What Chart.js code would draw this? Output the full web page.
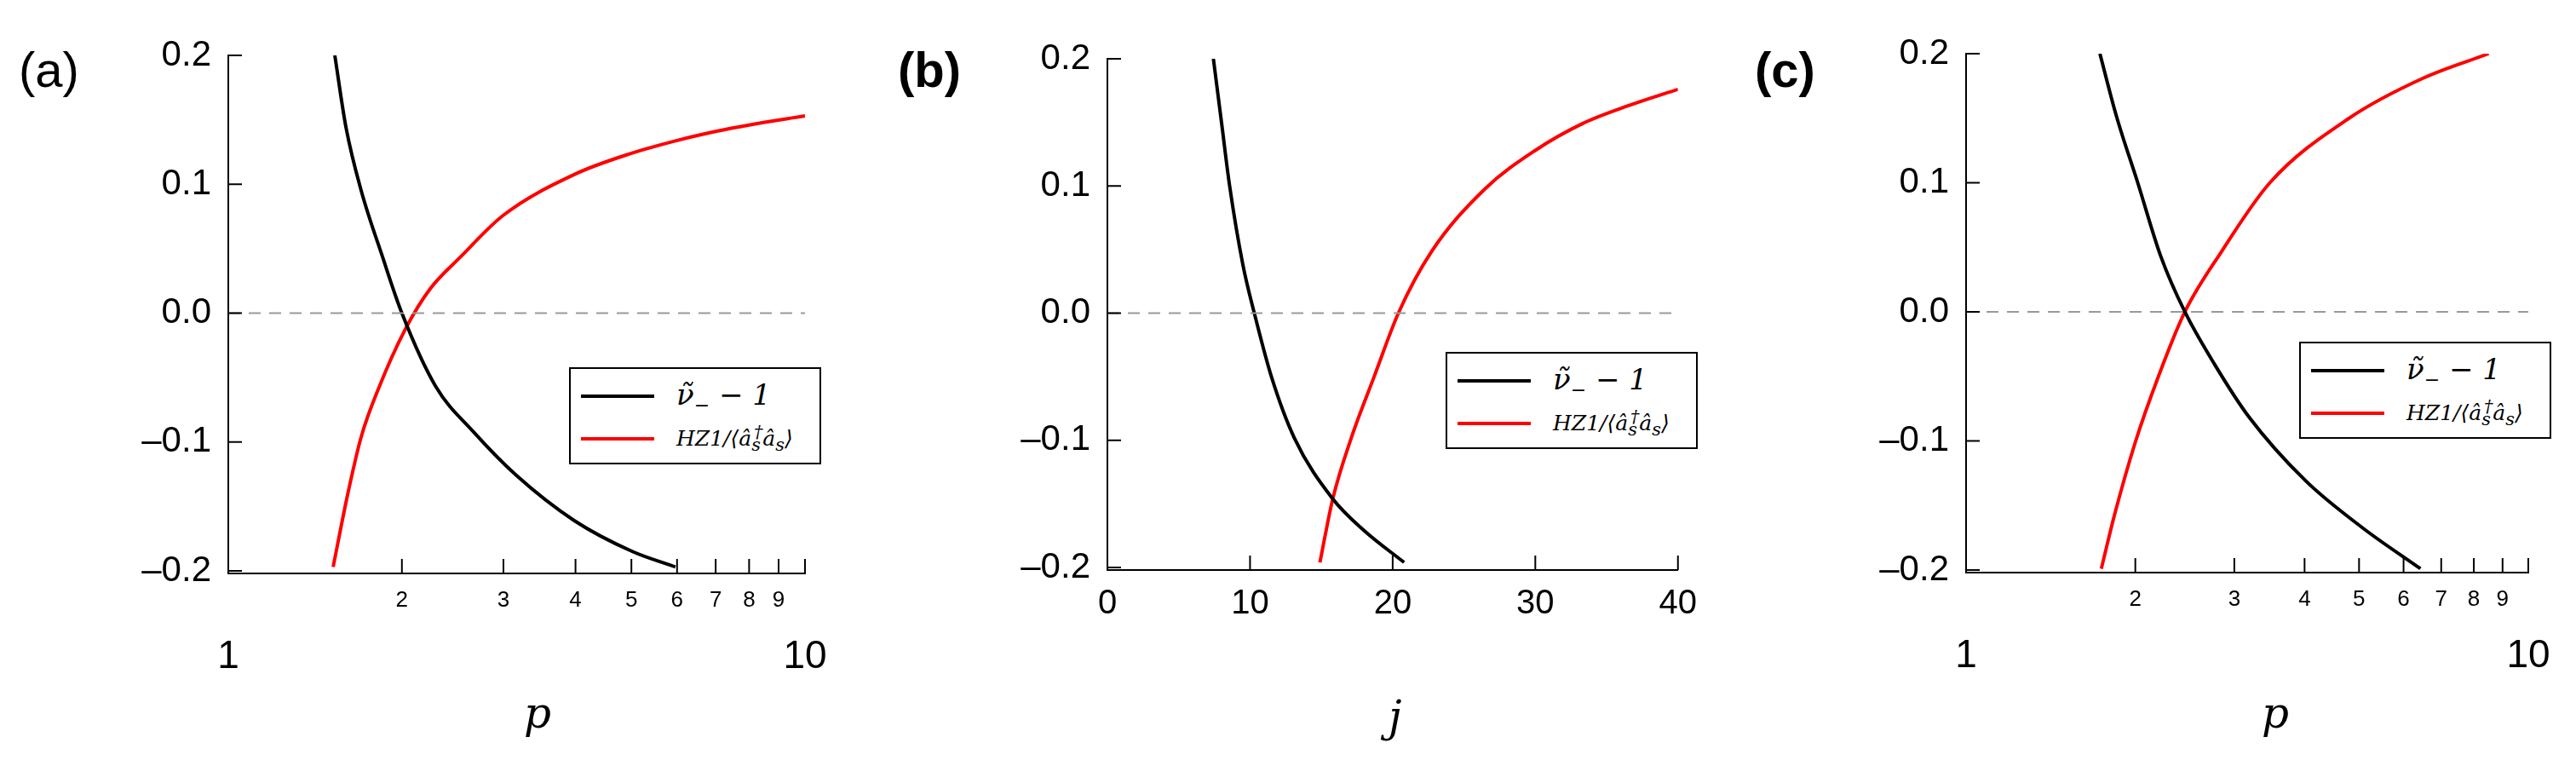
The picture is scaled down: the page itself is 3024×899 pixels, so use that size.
<!DOCTYPE html>
<html>
<head>
<meta charset="utf-8">
<script src="https://cdn.jsdelivr.net/npm/chart.js@4"></script>
<style>
  body { margin: 0; width: 3024px; height: 899px; background: #fff; position: relative; overflow: hidden; font-family: "Liberation Sans", Arial, sans-serif; }
  .panel { position: absolute; top: 0; height: 899px; }
  .tag { position: absolute; font-size: 58px; color: #000; }
  .atitle { position: absolute; font-family: "DejaVu Serif", serif; font-style: italic; font-size: 50px; }
  .legend { position: absolute; width: 296px; height: 114px; border: 2px solid #000; background: #fff; box-sizing: border-box; font-family: "DejaVu Serif", serif; font-style: italic; }
  .legend .row { position: absolute; left: 12px; height: 40px; display: flex; align-items: center; }
  .legend .sw { width: 86px; height: 4px; margin-right: 26px; }
  .legend .t1 { font-size: 34px; }
  .legend .t2 { font-size: 25px; }
</style>
</head>
<body>
<div class="panel" style="left:0;width:980px"><canvas id="ca"></canvas></div>
<div class="panel" style="left:1000px;width:1000px"><canvas id="cb"></canvas></div>
<div class="panel" style="left:2024px;width:1000px"><canvas id="cc"></canvas></div>

<div class="tag" style="left:22px;top:48px">(a)</div>
<div class="tag" style="left:1054px;top:48px;font-weight:bold">(b)</div>
<div class="tag" style="left:2060px;top:48px;font-weight:bold">(c)</div>

<div class="atitle" style="left:615px;top:808px">p</div>
<div class="atitle" style="left:1630px;top:812px">j</div>
<div class="atitle" style="left:2655px;top:808px">p</div>

<div class="legend" style="left:668px;top:431px">
  <div class="row" style="top:12px"><div class="sw" style="background:#000"></div><span class="t1">ν̃<sub style="font-size:22px">−</sub> − 1</span></div>
  <div class="row" style="top:62px"><div class="sw" style="background:#f00"></div><span class="t2">HZ1/⟨â<sub>s</sub><sup style="margin-left:-8px">†</sup>â<sub>s</sub>⟩</span></div>
</div>
<div class="legend" style="left:1697px;top:413px">
  <div class="row" style="top:12px"><div class="sw" style="background:#000"></div><span class="t1">ν̃<sub style="font-size:22px">−</sub> − 1</span></div>
  <div class="row" style="top:62px"><div class="sw" style="background:#f00"></div><span class="t2">HZ1/⟨â<sub>s</sub><sup style="margin-left:-8px">†</sup>â<sub>s</sub>⟩</span></div>
</div>
<div class="legend" style="left:2699px;top:401px">
  <div class="row" style="top:12px"><div class="sw" style="background:#000"></div><span class="t1">ν̃<sub style="font-size:22px">−</sub> − 1</span></div>
  <div class="row" style="top:62px"><div class="sw" style="background:#f00"></div><span class="t2">HZ1/⟨â<sub>s</sub><sup style="margin-left:-8px">†</sup>â<sub>s</sub>⟩</span></div>
</div>

<script>
// panel (a): x = p (log)
const aBlackX = [1.53, 1.6, 1.7, 1.85, 2.0, 2.29, 2.66, 3.16, 3.98, 5.02, 5.96];
const aBlackY = [0.2, 0.144, 0.095, 0.044, 0.0, -0.057, -0.092, -0.126, -0.161, -0.185, -0.197];
const aRedX = [1.52, 1.61, 1.70, 1.82, 2.03, 2.24, 2.52, 3.0, 4.0, 5.0, 6.0, 7.0, 8.0, 10.0];
const aRedY = [-0.197, -0.141, -0.096, -0.059, -0.012, 0.019, 0.043, 0.076, 0.108, 0.124, 0.134, 0.141, 0.146, 0.153];

// panel (b): x = j
const bBlackX = [7.43, 8.0, 8.57, 9.5, 10.3, 11.5, 13.1, 15.8, 18.0, 20.8];
const bBlackY = [0.2, 0.15, 0.1, 0.038, 0.0, -0.05, -0.098, -0.146, -0.171, -0.196];
const bRedX = [14.9, 15.8, 17.1, 18.7, 20.4, 22.7, 26.5, 30.0, 33.3, 36.5, 40.0];
const bRedY = [-0.196, -0.146, -0.098, -0.05, 0.0, 0.048, 0.098, 0.128, 0.149, 0.163, 0.176];

// panel (c): x = p (log)
const cBlackX = [1.73, 1.85, 2.02, 2.22, 2.45, 2.77, 3.18, 4.02, 5.06, 6.43];
const cBlackY = [0.2, 0.152, 0.1, 0.043, 0.0, -0.041, -0.081, -0.131, -0.167, -0.199];
const cRedX = [1.74, 1.84, 2.0, 2.19, 2.45, 2.85, 3.47, 4.8, 6.5, 8.5];
const cRedY = [-0.199, -0.156, -0.101, -0.052, 0.0, 0.047, 0.1, 0.15, 0.181, 0.2];

const yTicks = [-0.2, -0.1, 0.0, 0.1, 0.2];
const logTicks = [1, 2, 3, 4, 5, 6, 7, 8, 9, 10];
const linTicks = [0, 10, 20, 30, 40];

function pts(xs, ys) { return xs.map((x, i) => ({ x: x, y: ys[i] })); }

// inward tick marks
const innerTicks = {
  id: 'innerTicks',
  afterDraw(chart) {
    const c = chart.ctx, a = chart.chartArea;
    const xs = chart.scales.x, ys = chart.scales.y;
    c.save();
    c.strokeStyle = '#000';
    c.lineWidth = 2;
    xs.ticks.forEach(t => {
      const px = xs.getPixelForValue(t.value);
      if (px < a.left + 2) return;
      c.beginPath(); c.moveTo(px, a.bottom); c.lineTo(px, a.bottom - 17); c.stroke();
    });
    ys.ticks.forEach(t => {
      const py = ys.getPixelForValue(t.value);
      c.beginPath(); c.moveTo(a.left, py); c.lineTo(a.left + 16, py); c.stroke();
    });
    c.restore();
  }
};

function makeChart(id, w, yW, padR, padT, bottom, xType, xMin, xMax, xTickVals, black, red) {
  const canvas = document.getElementById(id);
  canvas.width = w; canvas.height = 899;
  canvas.style.width = w + 'px'; canvas.style.height = '899px';
  const isLog = xType === 'logarithmic';
  return new Chart(canvas, {
    type: 'line',
    data: {
      datasets: [
        { data: [{ x: xMin, y: 0 }, { x: xMax, y: 0 }], borderColor: '#999', borderWidth: 2, borderDash: [14, 10], pointRadius: 0 },
        { data: black, borderColor: '#000', borderWidth: 4, pointRadius: 0, cubicInterpolationMode: 'monotone' },
        { data: red, borderColor: '#f00', borderWidth: 4, pointRadius: 0, cubicInterpolationMode: 'monotone' }
      ]
    },
    options: {
      responsive: false,
      animation: false,
      layout: { padding: { top: padT, right: padR, left: 0, bottom: 0 } },
      plugins: { legend: { display: false }, tooltip: { enabled: false } },
      scales: {
        x: {
          type: xType, min: xMin, max: xMax,
          afterBuildTicks: s => { s.ticks = xTickVals.map(v => ({ value: v })); },
          afterFit: s => { s.height = 899 - bottom; },
          grid: { display: false },
          border: { display: true, color: '#000', width: 2 },
          ticks: {
            color: '#000', autoSkip: false, maxRotation: 0, padding: 8,
            font: ctx => {
              const v = ctx.tick ? ctx.tick.value : 0;
              if (!isLog) return { size: 40, family: 'Liberation Sans' };
              return (v === 1 || v === 10) ? { size: 46, family: 'Liberation Sans' } : { size: 26, family: 'Liberation Sans' };
            },
            callback: v => {
              if (!isLog) return String(v);
              return (v === 1 || v === 10) ? ['', String(v)] : String(v);
            }
          }
        },
        y: {
          min: -0.202, max: 0.2,
          afterBuildTicks: s => { s.ticks = yTicks.map(v => ({ value: v })); },
          afterFit: s => { s.width = yW; },
          grid: { display: false },
          border: { display: true, color: '#000', width: 2 },
          ticks: {
            color: '#000', padding: 12,
            font: { size: 42, family: 'Liberation Sans' },
            callback: v => (v < 0 ? '\u2013' : '') + Math.abs(v).toFixed(1)
          }
        }
      }
    },
    plugins: [innerTicks]
  });
}

makeChart('ca', 980, 268, 35, 65, 673, 'logarithmic', 1, 10, logTicks, pts(aBlackX, aBlackY), pts(aRedX, aRedY));
makeChart('cb', 1000, 300, 23, 69, 669, 'linear', 0, 40, linTicks, pts(bBlackX, bBlackY), pts(bRedX, bRedY));
makeChart('cc', 1000, 284, 56, 63, 672, 'logarithmic', 1, 10, logTicks, pts(cBlackX, cBlackY), pts(cRedX, cRedY));
</script>
</body>
</html>
